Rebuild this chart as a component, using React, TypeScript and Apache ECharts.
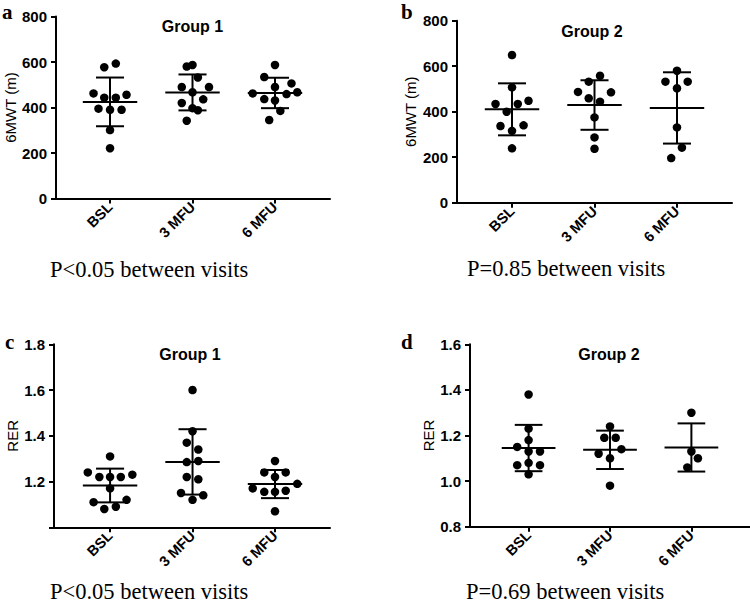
import React, { useEffect, useRef } from "react";
import * as echarts from "echarts";

// ---------- data ----------
const categories = ["BSL", "3 MFU", "6 MFU"];

// a: 6MWT, Group 1
const aBsl = [577, 593, 462, 443, 443, 456, 395, 390, 390, 301, 221];
const aBslJit = [-0.07, 0.07, -0.2, -0.07, 0.07, 0.2, -0.14, 0, 0.14, 0, 0];
const a3 = [580, 587, 532, 490, 467, 490, 420, 436, 397, 388, 342];
const a3Jit = [-0.07, 0, 0.065, -0.13, 0, 0.2, -0.13, 0.13, 0, 0.065, -0.07];
const a6 = [587, 534, 506, 462, 490, 459, 467, 437, 431, 385, 345];
const a6Jit = [0, -0.13, 0.2, -0.27, 0, 0.14, 0.27, -0.13, 0, 0.065, -0.07];

// b: 6MWT, Group 2
const bBsl = [649, 507, 434, 434, 448, 400, 337, 340, 316, 239];
const bBslJit = [0, 0, -0.2, 0.07, 0.2, -0.065, -0.14, 0.14, 0, 0];
const b3 = [558, 532, 487, 485, 459, 444, 375, 287, 237];
const b3Jit = [0.067, -0.07, -0.2, 0.2, -0.07, 0.067, 0, 0, 0];
const b6 = [580, 532, 532, 503, 331, 242, 196];
const b6Jit = [0, -0.14, 0.13, 0, 0, 0.06, -0.07];

// c: RER, Group 1
const cBsl = [1.31, 1.24, 1.22, 1.22, 1.22, 1.23, 1.17, 1.11, 1.12, 1.08, 1.09];
const cBslJit = [0, -0.27, -0.13, 0, 0.13, 0.27, 0, -0.2, 0.2, -0.07, 0.07];
const c3 = [1.6, 1.42, 1.37, 1.34, 1.285, 1.29, 1.22, 1.21, 1.15, 1.14, 1.12];
const c3Jit = [0, 0, -0.07, 0.07, -0.07, 0.07, -0.07, 0.07, -0.14, 0.13, 0];
const c6 = [1.29, 1.24, 1.24, 1.22, 1.17, 1.19, 1.155, 1.155, 1.16, 1.07];
const c6Jit = [0, -0.13, 0.13, 0, -0.27, 0.27, -0.13, 0, 0.13, 0];

// d: RER, Group 2
const dBsl = [1.38, 1.23, 1.18, 1.15, 1.13, 1.13, 1.07, 1.08, 1.07, 1.03];
const dBslJit = [0, 0, 0, -0.14, 0, 0.14, -0.14, 0, 0.14, 0];
const d3 = [1.24, 1.19, 1.19, 1.12, 1.14, 1.1, 0.98];
const d3Jit = [0, -0.07, 0.07, -0.14, 0.14, 0, 0];
const d6 = [1.3, 1.13, 1.1, 1.06];
const d6Jit = [0, 0, 0.08, -0.05];

const mwtTicks = [0, 200, 400, 600, 800];
const rerTicksC = [1.2, 1.4, 1.6, 1.8];
const rerTicksD = [0.8, 1.0, 1.2, 1.4, 1.6];

const panelLetters = ["a", "b", "c", "d"];
const groupTitles = ["Group 1", "Group 2", "Group 1", "Group 2"];
const pTexts = [
  "P<0.05 between visits",
  "P=0.85 between visits",
  "P<0.05 between visits",
  "P=0.69 between visits",
];

// ---------- helpers ----------
const mean = (a: number[]) => a.reduce((s, v) => s + v, 0) / a.length;
const sd = (a: number[]) => {
  const m = mean(a);
  return Math.sqrt(a.reduce((s, v) => s + (v - m) * (v - m), 0) / (a.length - 1));
};

const SANS = "'Liberation Sans', Arial, sans-serif";
const SERIF = "'Liberation Serif', 'Times New Roman', serif";

type Panel = {
  grid: any;
  xMin: number;
  xMax: number;
  yMin: number;
  yMax: number;
  yInt: number;
  yName: string;
  nameGap: number;
  labelTicks: number[];
  groups: [number[], number[]][];
  title: [number, number];
  letter: [number, number];
  p: [number, number];
};

const panels: Panel[] = [
  {
    grid: { left: 56, top: 16.5, width: 274, height: 182 },
    xMin: -0.655, xMax: 2.667, yMin: 0, yMax: 800, yInt: 200,
    yName: "6MWT (m)", nameGap: 37, labelTicks: mwtTicks,
    groups: [[aBsl, aBslJit], [a3, a3Jit], [a6, a6Jit]],
    title: [192.5, 26], letter: [2, 12], p: [50, 269],
  },
  {
    grid: { left: 457, top: 20.7, width: 275, height: 182 },
    xMin: -0.667, xMax: 2.667, yMin: 0, yMax: 800, yInt: 200,
    yName: "6MWT (m)", nameGap: 39, labelTicks: mwtTicks,
    groups: [[bBsl, bBslJit], [b3, b3Jit], [b6, b6Jit]],
    title: [592, 31], letter: [401, 12], p: [467, 268],
  },
  {
    grid: { left: 54, top: 344.3, width: 276, height: 183 },
    xMin: -0.68, xMax: 2.667, yMin: 1.0, yMax: 1.8, yInt: 0.2,
    yName: "RER", nameGap: 31, labelTicks: rerTicksC,
    groups: [[cBsl, cBslJit], [c3, c3Jit], [c6, c6Jit]],
    title: [190, 354], letter: [5, 342], p: [50, 591],
  },
  {
    grid: { left: 470, top: 344.3, width: 280, height: 182.4 },
    xMin: -0.72, xMax: 2.72, yMin: 0.8, yMax: 1.6, yInt: 0.2,
    yName: "RER", nameGap: 30, labelTicks: rerTicksD,
    groups: [[dBsl, dBslJit], [d3, d3Jit], [d6, d6Jit]],
    title: [609, 354], letter: [401, 342], p: [466, 591],
  },
];

const black = "#000";

function buildOption() {
  const grids: any[] = [];
  const xAxes: any[] = [];
  const yAxes: any[] = [];
  const series: any[] = [];
  const graphics: any[] = [];

  panels.forEach((pn, i) => {
    grids.push({ ...pn.grid, containLabel: false });
    xAxes.push({
      gridIndex: i,
      type: "value",
      min: pn.xMin,
      max: pn.xMax,
      axisLine: { show: true, onZero: false, lineStyle: { color: black, width: 2 } },
      axisTick: { show: true, customValues: [0, 1, 2], length: 5, lineStyle: { color: black, width: 2 } },
      axisLabel: {
        customValues: [0, 1, 2],
        formatter: (v: number) => categories[Math.round(v)] ?? "",
        rotate: 45,
        margin: 6,
        color: black,
        fontSize: 14.5,
        fontWeight: "bold",
        fontFamily: SANS,
      },
      splitLine: { show: false },
    });
    const decimals = pn.yInt < 1 ? 1 : 0;
    yAxes.push({
      gridIndex: i,
      type: "value",
      min: pn.yMin,
      max: pn.yMax,
      interval: pn.yInt,
      name: pn.yName,
      nameLocation: "middle",
      nameGap: pn.nameGap,
      nameTextStyle: { color: black, fontSize: 15, fontFamily: SANS },
      axisLine: { show: true, onZero: false, lineStyle: { color: black, width: 2 } },
      axisTick: { show: true, length: 5, lineStyle: { color: black, width: 2 } },
      axisLabel: {
        margin: 9,
        color: black,
        fontSize: 15,
        fontWeight: "bold",
        fontFamily: SANS,
        formatter: (v: number) =>
          pn.labelTicks.some((t) => Math.abs(t - v) < 1e-6) ? v.toFixed(decimals) : "",
      },
      splitLine: { show: false },
    });

    const pts: number[][] = [];
    const stats: number[][] = [];
    pn.groups.forEach(([vals, jit], ci) => {
      vals.forEach((v, k) => pts.push([ci + jit[k], v]));
      stats.push([ci, mean(vals), sd(vals)]);
    });

    series.push({
      type: "scatter",
      xAxisIndex: i,
      yAxisIndex: i,
      data: pts,
      symbol: "circle",
      symbolSize: 8.5,
      itemStyle: { color: black, opacity: 1 },
      z: 2,
    });
    series.push({
      type: "custom",
      xAxisIndex: i,
      yAxisIndex: i,
      data: stats,
      clip: false,
      z: 3,
      renderItem: (_params: any, api: any) => {
        const x = api.value(0);
        const m = api.value(1);
        const s = api.value(2);
        const segs = [
          [[x - 0.33, m], [x + 0.33, m]],
          [[x, m - s], [x, m + s]],
          [[x - 0.17, m + s], [x + 0.17, m + s]],
          [[x - 0.17, m - s], [x + 0.17, m - s]],
        ];
        return {
          type: "group",
          children: segs.map(([a, b]) => {
            const A = api.coord(a);
            const B = api.coord(b);
            return {
              type: "line",
              shape: { x1: A[0], y1: A[1], x2: B[0], y2: B[1] },
              style: { stroke: black, lineWidth: 2 },
            };
          }),
        };
      },
    });

    graphics.push({
      type: "text",
      x: pn.title[0],
      y: pn.title[1],
      style: {
        text: groupTitles[i],
        fill: black,
        font: `bold 16px ${SANS}`,
        align: "center",
        verticalAlign: "middle",
      },
    });
    graphics.push({
      type: "text",
      x: pn.letter[0],
      y: pn.letter[1],
      style: {
        text: panelLetters[i],
        fill: black,
        font: `bold 21px ${SERIF}`,
        align: "left",
        verticalAlign: "middle",
      },
    });
    graphics.push({
      type: "text",
      x: pn.p[0],
      y: pn.p[1],
      style: {
        text: pTexts[i],
        fill: black,
        font: `22.5px ${SERIF}`,
        align: "left",
        verticalAlign: "middle",
      },
    });
  });

  return {
    animation: false,
    backgroundColor: "#fff",
    grid: grids,
    xAxis: xAxes,
    yAxis: yAxes,
    series,
    graphic: graphics,
  };
}

export default function App() {
  const ref = useRef<HTMLDivElement>(null);
  useEffect(() => {
    if (!ref.current) return;
    const chart = echarts.init(ref.current, null, { renderer: "svg" });
    chart.setOption(buildOption() as any);
    return () => chart.dispose();
  }, []);
  return (
    <div
      ref={ref}
      style={{ position: "absolute", left: 0, top: 0, width: 750, height: 604, background: "#fff" }}
    />
  );
}
